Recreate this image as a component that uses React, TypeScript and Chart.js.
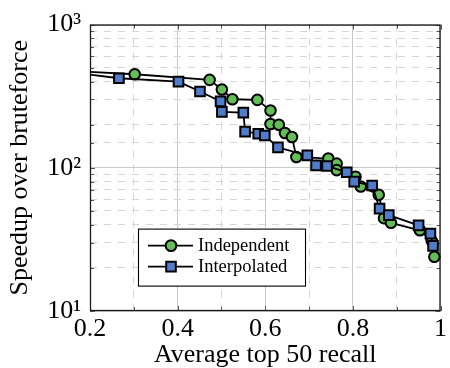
import React, { useEffect, useRef } from 'react';
import { Chart, registerables } from 'chart.js';

Chart.register(...registerables);

// ---- data ----
const independentRecall = [0.10, 0.302, 0.473, 0.501, 0.525, 0.582, 0.612, 0.612, 0.631, 0.645, 0.661, 0.671, 0.744, 0.763, 0.763, 0.806, 0.818, 0.859, 0.871, 0.887, 0.953, 0.980, 0.986];
const independentSpeedup = [485, 450, 411, 352, 301, 298, 251, 202, 200, 175, 164, 119, 116, 107, 96.4, 86.7, 74, 64.9, 44.5, 41.3, 36.6, 30.9, 23.9];

const interpolatedRecall = [0.10, 0.266, 0.402, 0.451, 0.498, 0.501, 0.550, 0.554, 0.584, 0.599, 0.629, 0.696, 0.716, 0.741, 0.786, 0.803, 0.844, 0.861, 0.882, 0.950, 0.977, 0.983];
const interpolatedSpeedup = [487, 422, 400, 341, 291, 246, 243, 179, 173, 168, 139, 122, 104, 103, 93, 80, 75.2, 51.9, 46.7, 39.6, 34.7, 28.5];

const seriesLabels = ['Independent', 'Interpolated'];
const xMin = 0.2;
const xMax = 1;
const yMin = 10;
const yMax = 1000;
const yMajorValues = [10, 100, 1000];
const yMajorLabels = ['10\u00B9', '10\u00B2', '10\u00B3'];
const xTitle = 'Average top 50 recall';
const yTitle = 'Speedup over bruteforce';

const FONT = '"Liberation Serif", "Times New Roman", serif';
const GREEN = 'rgb(100,190,88)';
const BLUE = 'rgb(80,125,202)';

const toPoints = (xs: number[], ys: number[]) => xs.map((x, i) => ({ x, y: ys[i] }));

const isMajorX = (v: number) => Math.round(v * 10) % 2 === 0;
const isMajorY = (v: number) => Math.abs(Math.log10(v) - Math.round(Math.log10(v))) < 1e-6;

const frameAndTicks = {
  id: 'frameAndTicks',
  beforeDatasetsDraw(chart: any) {
    const { ctx, chartArea: a, scales } = chart;
    const x = scales.x;
    const y = scales.y;
    ctx.save();
    ctx.strokeStyle = '#555';
    ctx.lineWidth = 1;
    ctx.beginPath();
    x.ticks.forEach((t: any) => {
      const len = isMajorX(t.value) ? 5 : 4;
      const px = Math.round(x.getPixelForValue(t.value)) + 0.5;
      ctx.moveTo(px, a.top);
      ctx.lineTo(px, a.top + len);
      ctx.moveTo(px, a.bottom);
      ctx.lineTo(px, a.bottom - len);
    });
    y.ticks.forEach((t: any) => {
      const len = isMajorY(t.value) ? 5 : 4;
      const py = Math.round(y.getPixelForValue(t.value)) + 0.5;
      ctx.moveTo(a.left, py);
      ctx.lineTo(a.left + len, py);
      ctx.moveTo(a.right, py);
      ctx.lineTo(a.right - len, py);
    });
    ctx.stroke();
    ctx.strokeStyle = '#1a1a1a';
    ctx.lineWidth = 1.3;
    ctx.strokeRect(a.left + 0.5, a.top + 0.5, a.right - a.left - 1, a.bottom - a.top - 1);
    ctx.restore();
  },
};

const legendBox = {
  id: 'legendBox',
  afterDraw(chart: any) {
    const { ctx, chartArea: a } = chart;
    const left = a.left + 48;
    const top = a.top + 204;
    const w = 167;
    const h = 57;
    ctx.save();
    ctx.fillStyle = '#fff';
    ctx.fillRect(left, top, w, h);
    ctx.strokeStyle = '#000';
    ctx.lineWidth = 1.1;
    ctx.strokeRect(left + 0.5, top + 0.5, w, h);
    chart.data.datasets.forEach((ds: any, i: number) => {
      const cy = top + 17 + i * 21;
      ctx.strokeStyle = '#000';
      ctx.lineWidth = 1.8;
      ctx.beginPath();
      ctx.moveTo(left + 10, cy);
      ctx.lineTo(left + 55, cy);
      ctx.stroke();
      const cx = left + 33;
      ctx.fillStyle = ds.pointBackgroundColor;
      ctx.lineWidth = 2;
      ctx.beginPath();
      if (ds.pointStyle === 'circle') {
        ctx.arc(cx, cy, 5.4, 0, Math.PI * 2);
      } else {
        ctx.rect(cx - 4.8, cy - 4.8, 9.6, 9.6);
      }
      ctx.fill();
      ctx.stroke();
      ctx.fillStyle = '#000';
      ctx.font = `18.5px ${FONT}`;
      ctx.textAlign = 'left';
      ctx.textBaseline = 'middle';
      ctx.fillText(ds.label, left + 60, cy + 1);
    });
    ctx.restore();
  },
};

export default function App() {
  const ref = useRef<HTMLCanvasElement>(null);
  useEffect(() => {
    document.body.style.margin = '0';
    const gridColor = (major: boolean) => (major ? '#c9c9c9' : '#d6d6d6');
    const chart = new Chart(ref.current as HTMLCanvasElement, {
      type: 'line',
      data: {
        datasets: [
          {
            label: seriesLabels[0],
            data: toPoints(independentRecall, independentSpeedup),
            borderColor: '#000',
            borderWidth: 1.8,
            pointStyle: 'circle',
            pointRadius: 5.3,
            pointBorderWidth: 2,
            pointBorderColor: '#000',
            pointBackgroundColor: GREEN,
            backgroundColor: GREEN,
            order: 1,
            clip: { left: 0, top: 8, right: 8, bottom: 8 },
          } as any,
          {
            label: seriesLabels[1],
            data: toPoints(interpolatedRecall, interpolatedSpeedup),
            borderColor: '#000',
            borderWidth: 1.8,
            pointStyle: 'rect',
            pointRadius: 6.8,
            pointBorderWidth: 2,
            pointBorderColor: '#000',
            pointBackgroundColor: BLUE,
            backgroundColor: BLUE,
            order: 0,
            clip: { left: 0, top: 8, right: 8, bottom: 8 },
          } as any,
        ],
      },
      options: {
        responsive: false,
        animation: false,
        devicePixelRatio: 1,
        layout: { autoPadding: false, padding: { left: 0, right: 6, top: 21, bottom: 0 } },
        plugins: { legend: { display: false }, tooltip: { enabled: false } },
        scales: {
          x: {
            type: 'linear',
            min: xMin,
            max: xMax,
            afterFit: (s: any) => { s.height = 57; },
            ticks: {
              stepSize: 0.1,
              autoSkip: false,
              maxRotation: 0,
              padding: 3,
              color: '#000',
              font: { family: FONT, size: 26 },
              callback: (v: any) => {
                const n = Math.round(Number(v) * 10);
                if (n % 2 !== 0) return '';
                return n === 10 ? '1' : (n / 10).toFixed(1);
              },
            },
            grid: {
              drawTicks: false,
              lineWidth: 1,
              color: (c: any) => gridColor(c.tick ? isMajorX(c.tick.value) : true),
            },
            border: {
              display: false,
              dash: (c: any) => (c.tick && !isMajorX(c.tick.value) ? [7, 7] : []),
            },
            title: {
              display: true,
              text: xTitle,
              color: '#000',
              font: { family: FONT, size: 26, lineHeight: 1 },
              padding: { top: 0, bottom: 0 },
            },
          },
          y: {
            type: 'logarithmic',
            min: yMin,
            max: yMax,
            afterFit: (s: any) => { s.width = 90; },
            ticks: {
              autoSkip: false,
              padding: 9,
              color: '#000',
              font: { family: FONT, size: 26 },
              callback: (v: any) => {
                const idx = yMajorValues.findIndex((m) => Math.abs(m - Number(v)) < 1e-6);
                return idx >= 0 ? yMajorLabels[idx] : '';
              },
            },
            grid: {
              drawTicks: false,
              lineWidth: 1,
              color: (c: any) => gridColor(c.tick ? isMajorY(c.tick.value) : true),
            },
            border: {
              display: false,
              dash: (c: any) => (c.tick && !isMajorY(c.tick.value) ? [7, 7] : []),
            },
            title: {
              display: true,
              text: yTitle,
              color: '#000',
              font: { family: FONT, size: 26, lineHeight: 1 },
              padding: { top: 7, bottom: 0 },
            },
          },
        },
      } as any,
      plugins: [frameAndTicks, legendBox],
    });
    return () => chart.destroy();
  }, []);
  return (
    <div style={{ position: 'absolute', left: 0, top: 0, width: 450, height: 368 }}>
      <canvas ref={ref} width={450} height={368} style={{ display: 'block', width: 450, height: 368 }} />
    </div>
  );
}
